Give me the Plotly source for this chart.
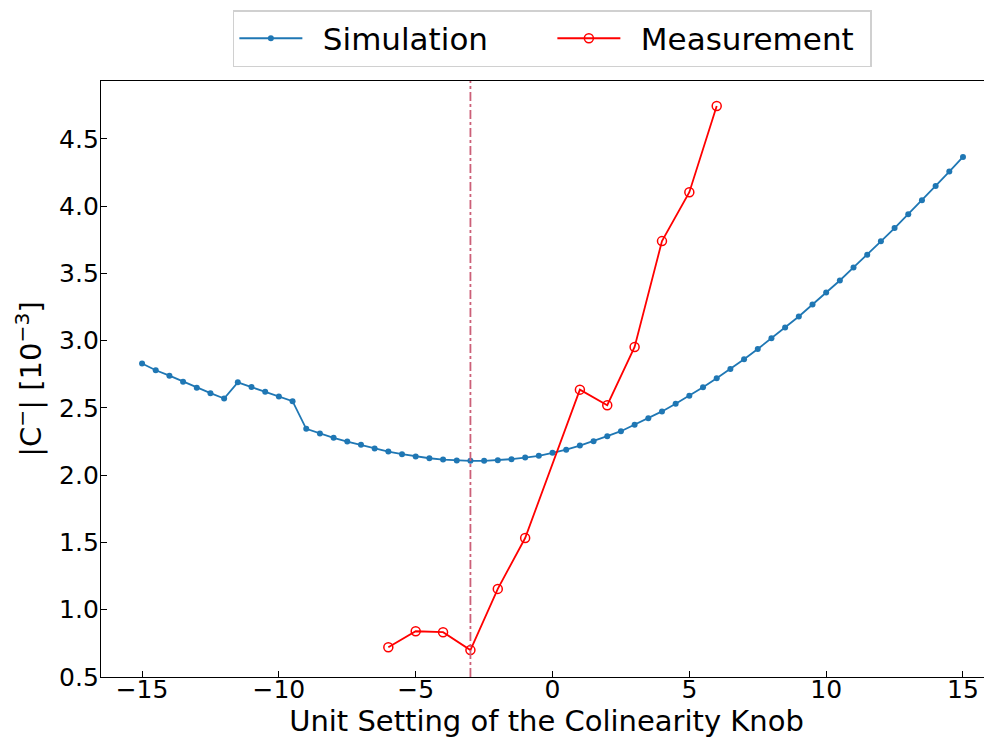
import plotly.graph_objects as go

sim_x = [-15 + 0.5 * i for i in range(61)]
sim_y = [2.83, 2.78, 2.74, 2.695, 2.65, 2.61, 2.57, 2.69, 2.655, 2.62, 2.585, 2.55,
         2.345, 2.31, 2.278, 2.25, 2.226, 2.198, 2.176, 2.156, 2.139, 2.126, 2.116,
         2.109, 2.107, 2.107, 2.111, 2.119, 2.131, 2.144, 2.166, 2.19, 2.22, 2.253,
         2.29, 2.327, 2.375, 2.424, 2.474, 2.531, 2.59, 2.653, 2.72, 2.79, 2.862,
         2.938, 3.018, 3.097, 3.18, 3.269, 3.358, 3.447, 3.544, 3.638, 3.738, 3.837,
         3.939, 4.043, 4.15, 4.257, 4.366]

meas_x = [-6, -5, -4, -3, -2, -1, 1, 2, 3, 4, 5, 6]
meas_y = [0.721, 0.84, 0.833, 0.70, 1.155, 1.533, 2.636, 2.52, 2.953, 3.74, 4.103, 4.744]

vline_x = -3

x_ticks = [-15, -10, -5, 0, 5, 10, 15]
x_tick_text = ["\u221215", "\u221210", "\u22125", "0", "5", "10", "15"]
y_ticks = [0.5, 1.0, 1.5, 2.0, 2.5, 3.0, 3.5, 4.0, 4.5]
y_tick_text = ["0.5", "1.0", "1.5", "2.0", "2.5", "3.0", "3.5", "4.0", "4.5"]

fig = go.Figure()
fig.add_trace(go.Scatter(
    x=sim_x, y=sim_y, mode="lines+markers", name="\u2002Simulation",
    line=dict(color="#1f77b4", width=1.8),
    marker=dict(color="#1f77b4", size=6),
))
fig.add_trace(go.Scatter(
    x=meas_x, y=meas_y, mode="lines+markers", name="\u2002Measurement",
    line=dict(color="#ff0000", width=1.8),
    marker=dict(symbol="circle-open", color="#ff0000", size=9, line=dict(width=1.5)),
))
fig.add_vline(x=vline_x, line=dict(color="#cc6078", width=1.8, dash="dashdot"))

font = "DejaVu Sans, sans-serif"
fig.update_layout(
    width=984, height=736,
    margin=dict(l=93, r=0, t=73, b=67),
    paper_bgcolor="white", plot_bgcolor="white",
    font=dict(family=font, color="black", size=25),
    showlegend=True,
    legend=dict(
        orientation="h", x=0.148, xanchor="left", y=1.119, yanchor="top",
        bordercolor="#d0d0d0", borderwidth=1.5,
        font=dict(size=31, family=font), itemwidth=63,
        entrywidth=240, entrywidthmode="pixels",
        bgcolor="white", tracegroupgap=0,
    ),
    xaxis=dict(
        range=[-16.5, 16.06], tickvals=x_ticks, ticktext=x_tick_text,
        ticks="inside", ticklen=6, tickwidth=1.2, tickcolor="black",
        showline=True, linecolor="black", linewidth=1.3, mirror=True,
        showgrid=False, zeroline=False, automargin=False,
        ticklabelstandoff=-10,
        tickfont=dict(size=25, family=font),
        title=dict(text="Unit Setting of the Colinearity Knob", font=dict(size=29, family=font), standoff=4),
    ),
    yaxis=dict(
        range=[0.5, 4.93], tickvals=y_ticks, ticktext=y_tick_text,
        ticks="inside", ticklen=6, tickwidth=1.2, tickcolor="black",
        showline=True, linecolor="black", linewidth=1.3,
        showgrid=False, zeroline=False, automargin=False,
        ticklabelstandoff=-4,
        tickfont=dict(size=25, family=font),
        title=dict(text="|C<sup>\u2212</sup>| [10<sup>\u22123</sup>]", font=dict(size=29, family=font), standoff=8),
    ),
)

fig.write_html("out.html")
